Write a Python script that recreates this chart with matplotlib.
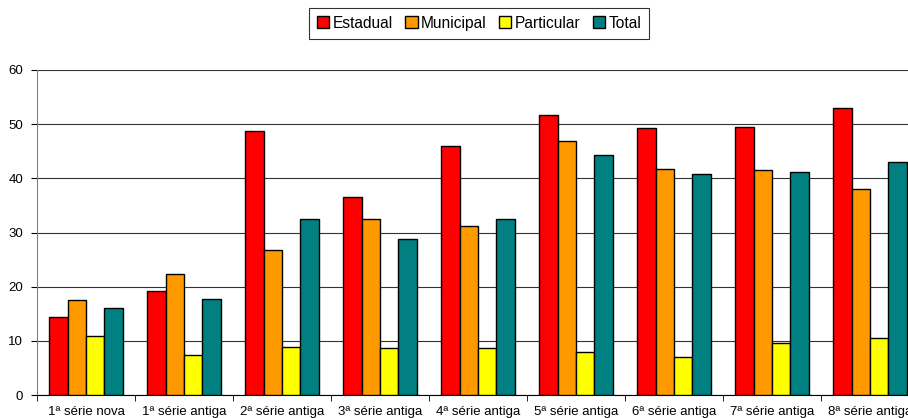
import numpy as np
import matplotlib.pyplot as plt

plt.rcParams['font.family'] = ['Liberation Sans', 'DejaVu Sans']

categories = ['1ª série nova', '1ª série antiga', '2ª série antiga', '3ª série antiga',
              '4ª série antiga', '5ª série antiga', '6ª série antiga', '7ª série antiga',
              '8ª série antiga']
estadual = [14.4, 19.2, 48.7, 36.6, 46.0, 51.7, 49.2, 49.4, 53.0]
municipal = [17.5, 22.3, 26.8, 32.5, 31.2, 46.9, 41.8, 41.5, 38.0]
particular = [10.9, 7.3, 8.9, 8.7, 8.7, 7.9, 7.0, 9.6, 10.5]
total = [16.0, 17.8, 32.5, 28.8, 32.5, 44.3, 40.8, 41.2, 43.0]

series = [('Estadual', estadual, '#ff0000'),
          ('Municipal', municipal, '#ff9900'),
          ('Particular', particular, '#ffff00'),
          ('Total', total, '#008080')]

fig = plt.figure(figsize=(9.08, 4.18), dpi=100)
ax = fig.add_axes([37 / 908, 1 - 395 / 418, 882 / 908, 325 / 418])

x = np.arange(len(categories))
w = 0.187
for i, (name, vals, col) in enumerate(series):
    ax.bar(x + (i - 1.5) * w, vals, w, color=col, edgecolor='black', linewidth=1.0,
           label=name, zorder=3)

ax.set_xlim(-0.5, len(categories) - 0.5)
ax.set_ylim(0, 60)
ax.set_yticks(range(0, 61, 10))
ax.yaxis.grid(True, color='#333333', linewidth=0.8, zorder=0)
ax.tick_params(axis='y', labelsize=9.5, length=4, direction='out', pad=6)

# category labels centred, tick marks between categories
ax.set_xticks(x)
ax.set_xticklabels(categories, fontsize=9.5)
ax.set_xticks(np.arange(-0.5, len(categories), 1), minor=True)
ax.tick_params(axis='x', which='major', length=0, pad=8)
ax.tick_params(axis='x', which='minor', length=4, direction='out')

for s in ['top', 'right']:
    ax.spines[s].set_visible(False)
ax.spines['left'].set_color('#808080')
ax.spines['bottom'].set_color('black')

leg = fig.legend(loc='upper center', bbox_to_anchor=(479 / 908, 1 - 8 / 418), ncol=4,
                 fontsize=11.2, frameon=True, fancybox=False, edgecolor='black',
                 handlelength=0.8, handleheight=0.8, handletextpad=0.2,
                 columnspacing=0.8, borderpad=0.5, borderaxespad=0)
leg.get_frame().set_linewidth(0.8)

fig.savefig('out.png', dpi=100)
